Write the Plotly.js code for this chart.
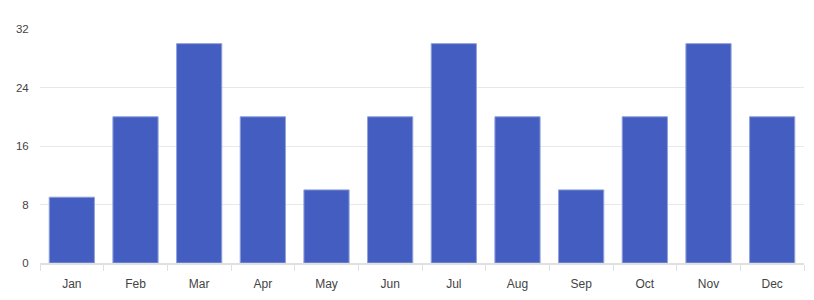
<!DOCTYPE html>
<html>
<head>
<meta charset="utf-8">
<script src="https://cdn.plot.ly/plotly-3.0.1.min.js"></script>
<style>html,body{margin:0;padding:0;background:#fff;}#chart{width:814px;height:300px;}</style>
</head>
<body>
<div id="chart"></div>
<script>
const months = ["Jan","Feb","Mar","Apr","May","Jun","Jul","Aug","Sep","Oct","Nov","Dec"];
const values = [9, 20, 30, 20, 10, 20, 30, 20, 10, 20, 30, 20];
const yTicks = [0, 8, 16, 24, 32];

Plotly.newPlot("chart", [{
  type: "bar",
  x: months,
  y: values,
  marker: {color: "#435ec0", line: {color: "#8fa0dc", width: 1}},
  hoverinfo: "x+y"
}], {
  width: 814, height: 300,
  margin: {l: 40, r: 10, t: 29, b: 37},
  paper_bgcolor: "#fff", plot_bgcolor: "#fff",
  bargap: 0.29,
  font: {family: "Liberation Sans, Arial, sans-serif", size: 12, color: "#444"},
  xaxis: {
    type: "category",
    tickson: "boundaries",
    ticks: "outside", ticklen: 6, tickcolor: "#e0e0e0", tickwidth: 1,
    showline: true, linecolor: "#e0e0e0", linewidth: 2,
    showgrid: false, zeroline: false,
    ticklabelstandoff: 9,
    tickfont: {size: 12, color: "#444"}
  },
  yaxis: {
    range: [0, 32], tickvals: yTicks, ticktext: yTicks.map(String),
    showgrid: true, gridcolor: "#e8e8e8", gridwidth: 1,
    zeroline: false, showline: false,
    ticks: "outside", ticklen: 8, tickcolor: "rgba(0,0,0,0)",
    tickfont: {size: 11.5, color: "#444"}
  },
  showlegend: false
}, {displayModeBar: false});
</script>
</body>
</html>
